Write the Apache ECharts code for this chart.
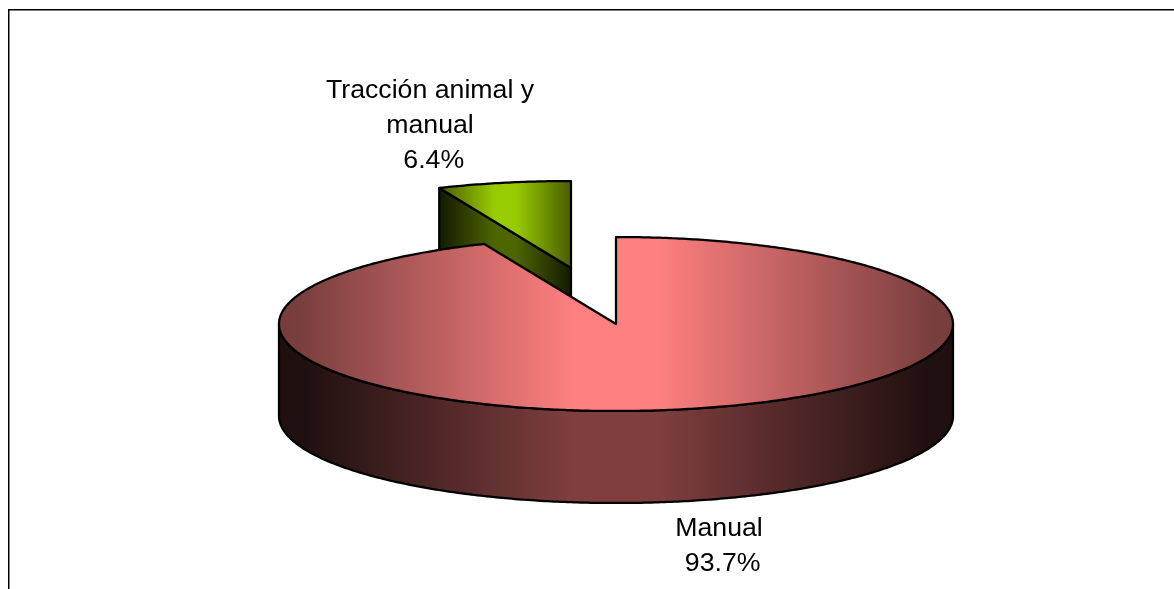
<!DOCTYPE html>
<html><head><meta charset="utf-8">
<style>html,body{margin:0;padding:0;background:#fff}#c{width:1174px;height:589px}</style>
<script src="https://cdn.jsdelivr.net/npm/echarts@6/dist/echarts.min.js"></script>
</head><body><div id="c"></div>
<script>
var categories = ['Manual', 'Tracción animal y manual'];
var shares = [93.7, 6.4];
var labelLines = [['Manual', ' 93.7%'], ['Tracción animal y', 'manual', ' 6.4%']];

var CX = 616, CY = 324, RX = 337, RY = 87, DEPTH = 92;
var explode = [[0, 0], [-45, -56]];
var labelAnchor = [[719, 546], [430, 126]];
var topStops = [
  [[0, '#773d3d'], [0.03, '#793e3e'], [0.44, '#ff8080'], [0.56, '#ff8080'], [0.97, '#793e3e'], [1, '#773d3d']],
  [[0, '#4a5c00'], [0.42, '#99cc00'], [0.58, '#99cc00'], [1, '#4a5c00']]
];
var sideStops = [
  [[0, '#1f0f0f'], [0.04, '#211010'], [0.44, '#803f3f'], [0.56, '#803f3f'], [0.96, '#211010'], [1, '#1f0f0f']],
  [[0, '#141a00'], [0.42, '#4d6600'], [0.58, '#4d6600'], [1, '#141a00']]
];
var totalShare = shares[0] + shares[1];

function grad(stops, x0, x1) {
  return { type: 'linear', x: x0, y: 0, x2: x1, y2: 0, global: true,
    colorStops: stops.map(function (s) { return { offset: s[0], color: s[1] }; }) };
}
function pt(cx, cy, a) { return [cx + RX * Math.sin(a), cy - RY * Math.cos(a)]; }
function arcPts(cx, cy, a0, a1) {
  var n = Math.max(2, Math.ceil(Math.abs(a1 - a0) / 0.01)), out = [];
  for (var i = 0; i <= n; i++) out.push(pt(cx, cy, a0 + (a1 - a0) * i / n));
  return out;
}
function shape(points, fill, z2) {
  return { type: 'polygon', z2: z2, shape: { points: points },
    style: { fill: fill, stroke: '#000', lineWidth: 2.25, lineJoin: 'round' } };
}
function renderItem(params, api) {
  var i = params.dataIndex;
  var before = 0;
  for (var k = 0; k < i; k++) before += shares[k];
  var a0 = before / totalShare * 2 * Math.PI;
  var a1 = (before + api.value(0)) / totalShare * 2 * Math.PI;
  var cx = CX + explode[i][0], cy = CY + explode[i][1];
  var xL = CX - RX, xR = CX + RX;
  if (i === 1) { xL = pt(cx, cy, a0)[0]; xR = cx; }
  var z = i === 0 ? 10 : 0;
  var kids = [];

  // outer wall: the part of the rim that faces the viewer
  var wa0 = Math.max(a0, Math.PI / 2), wa1 = Math.min(a1, Math.PI * 1.5);
  if (wa1 > wa0) {
    var rim = arcPts(cx, cy, wa0, wa1);
    var low = rim.map(function (p) { return [p[0], p[1] + DEPTH]; }).reverse();
    kids.push(shape(rim.concat(low), grad(sideStops[i], xL, xR), z + 1));
  }
  // cut wall of the detached slice, seen through the gap
  if (i === 1) {
    var p = pt(cx, cy, a0);
    kids.push(shape([[cx, cy], p, [p[0], p[1] + DEPTH], [cx, cy + DEPTH]],
      grad(sideStops[i], xL, xR), z + 1));
  }
  // top face
  var top = [[cx, cy]].concat(arcPts(cx, cy, a0, a1));
  kids.push(shape(top, grad(topStops[i], xL, xR), z + 2));

  // label
  kids.push({ type: 'text', z2: 30,
    style: { x: labelAnchor[i][0], y: labelAnchor[i][1], text: labelLines[i].join('\n'), fill: '#000',
      font: '26.7px "Liberation Sans", Arial, sans-serif', lineHeight: 35,
      align: 'center', verticalAlign: 'middle' } });
  return { type: 'group', children: kids };
}

var chart = echarts.init(document.getElementById('c'), null, { renderer: 'canvas' });
chart.setOption({
  animation: false,
  backgroundColor: '#fff',
  graphic: [{ type: 'polyline', silent: true, z: -1,
    shape: { points: [[8.75, 589], [8.75, 9.75], [1174, 9.75]] },
    style: { stroke: '#000', lineWidth: 1.5, fill: null } }],
  series: [{
    type: 'custom', coordinateSystem: 'none', silent: true,
    renderItem: renderItem,
    data: categories.map(function (c, i) { return { name: c, value: [shares[i]] }; })
  }]
});
</script></body></html>
